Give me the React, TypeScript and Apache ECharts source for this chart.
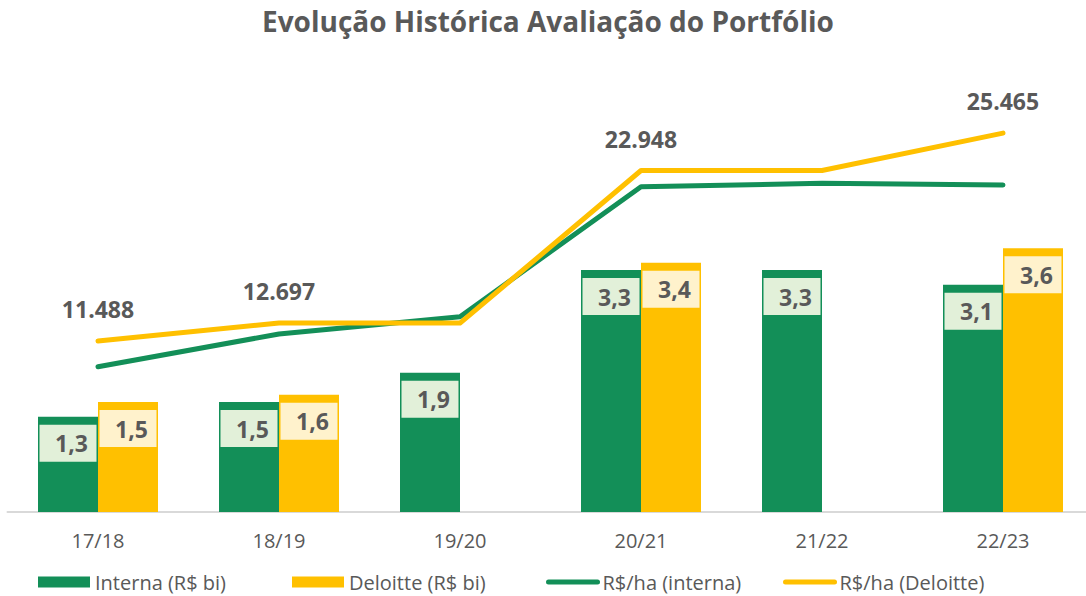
import React, { useEffect, useRef } from "react";
import * as echarts from "echarts";

const categories = ["17/18", "18/19", "19/20", "20/21", "21/22", "22/23"];
const internaBi = [1.3, 1.5, 1.9, 3.3, 3.3, 3.1];
const deloitteBi: (number | null)[] = [1.5, 1.6, null, 3.4, null, 3.6];
const internaHa = [9765, 11962, 13125, 21862, 22090, 21976];
const deloitteHa = [11488, 12697, 12697, 22948, 22948, 25465];
const deloitteHaLabelShown = [true, true, false, true, false, true];
const legendNames = ["Interna (R$ bi)", "Deloitte (R$ bi)", "R$/ha (interna)", "R$/ha (Deloitte)"];
const legendLefts = [38, 292, 546, 783];

const GREEN = "#138F58";
const YELLOW = "#FFC000";
const TEXT = "#595959";
const FONT = "Open Sans";

export default function App() {
  const ref = useRef<HTMLDivElement>(null);
  useEffect(() => {
    if (!ref.current) return;
    const chart = echarts.init(ref.current, null, { renderer: "svg" });
    const fmtBi = (p: any) => (p.value == null ? "" : Number(p.value).toFixed(1).replace(".", ","));
    const fmtHa = (p: any) => Number(p.value).toLocaleString("de-DE");
    const barLabel = (bg: string) => ({
      show: true,
      position: "insideTop",
      distance: 8,
      backgroundColor: bg,
      width: 50,
      height: 37,
      lineHeight: 37,
      padding: [0, 0, 0, 7],
      align: "center",
      color: TEXT,
      fontFamily: FONT,
      fontWeight: "bold",
      fontSize: 23,
      formatter: fmtBi,
    });
    const legends = legendNames.map((name, i) => ({
      left: legendLefts[i],
      top: 572,
      padding: 0,
      itemWidth: i < 2 ? 52 : 49,
      itemHeight: 11,
      textStyle: { color: TEXT, fontSize: 20, fontFamily: FONT },
      data: [
        i < 2
          ? { name, icon: "rect" }
          : { name, lineStyle: { width: 5, cap: "round" }, itemStyle: { opacity: 0 } },
      ],
    }));
    chart.setOption({
      animation: false,
      textStyle: { fontFamily: FONT },
      title: {
        text: "Evolução Histórica Avaliação do Portfólio",
        left: 262,
        top: 7,
        padding: 0,
        textStyle: { color: TEXT, fontSize: 28, fontWeight: "bold", fontFamily: FONT },
      },
      legend: legends,
      grid: { left: 7.5, top: 100, width: 1086, height: 412 },
      xAxis: {
        type: "category",
        data: categories,
        axisTick: { show: false },
        axisLine: { lineStyle: { color: "#D9D9D9", width: 2 } },
        axisLabel: { color: TEXT, fontSize: 20, margin: 18, fontFamily: FONT },
      },
      yAxis: [
        { type: "value", min: 0, max: 5.621, show: false, splitLine: { show: false } },
        { type: "value", min: 0, max: 27688, show: false, splitLine: { show: false } },
      ],
      series: [
        {
          name: legendNames[0],
          type: "bar",
          data: internaBi,
          barWidth: 60,
          barGap: "0%",
          itemStyle: { color: GREEN },
          label: barLabel("#E2F0D9"),
        },
        {
          name: legendNames[1],
          type: "bar",
          data: deloitteBi,
          barWidth: 60,
          barGap: "0%",
          itemStyle: { color: YELLOW },
          label: barLabel("#FFF2CC"),
        },
        {
          name: legendNames[2],
          type: "line",
          yAxisIndex: 1,
          data: internaHa,
          symbol: "none",
          z: 5,
          lineStyle: { color: GREEN, width: 5, cap: "round", join: "round" },
          itemStyle: { color: GREEN },
        },
        {
          name: legendNames[3],
          type: "line",
          yAxisIndex: 1,
          data: deloitteHa.map((v, i) => ({
            value: v,
            label: { show: deloitteHaLabelShown[i] },
          })),
          symbol: "circle",
          symbolSize: 1,
          showSymbol: true,
          z: 6,
          lineStyle: { color: YELLOW, width: 5, cap: "round", join: "round" },
          itemStyle: { color: "rgba(0,0,0,0)", borderWidth: 0 },
          label: {
            show: false,
            position: "top",
            distance: 20,
            color: TEXT,
            fontSize: 23,
            fontWeight: "bold",
            fontFamily: FONT,
            formatter: fmtHa,
          },
        },
      ],
    });
    return () => chart.dispose();
  }, []);
  return (
    <div
      style={{
        position: "fixed",
        left: 0,
        top: 0,
        width: 1086,
        height: 596,
        overflow: "hidden",
        background: "#fff",
      }}
    >
      <div ref={ref} style={{ width: 1100, height: 596 }} />
    </div>
  );
}
